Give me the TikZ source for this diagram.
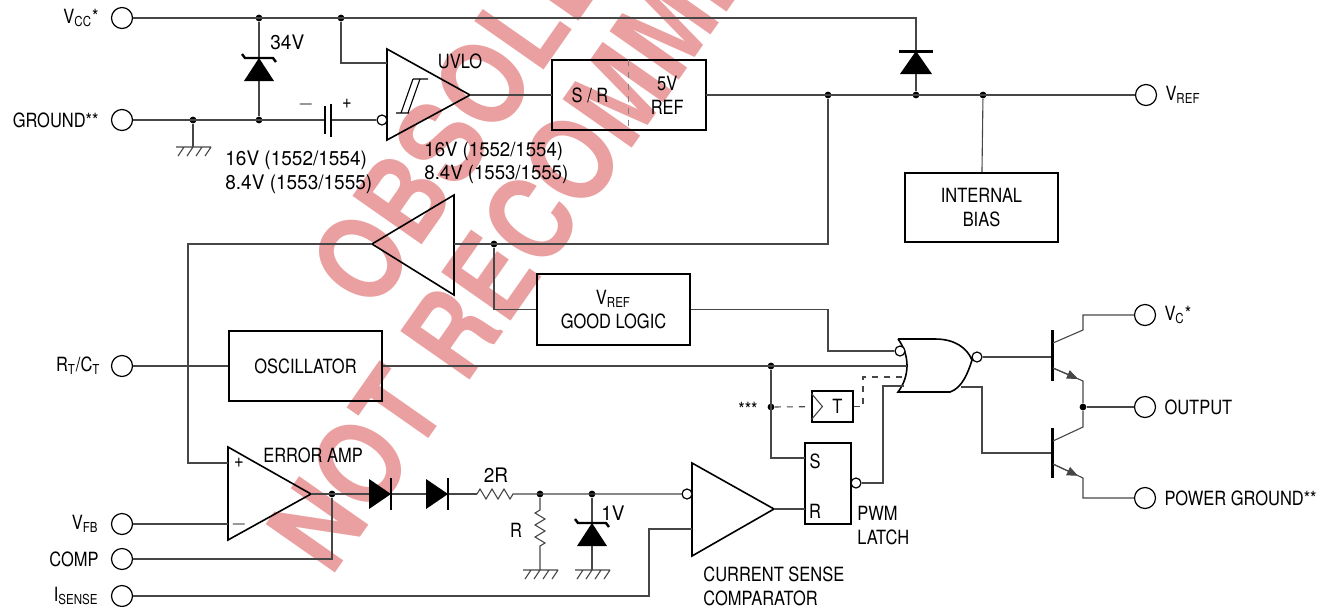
\documentclass[tikz,border=0pt]{standalone}
\usepackage{fontspec}
\setmainfont{TeX Gyre Heros}[FakeStretch=0.84]
\newfontfamily\wmfont{TeX Gyre Heros}[FakeStretch=0.85]
\newfontfamily\numfont{TeX Gyre Heros}[FakeStretch=0.95]
\usetikzlibrary{arrows.meta,positioning}
\definecolor{wmpink}{RGB}{234,160,160}
\definecolor{wiregray}{RGB}{70,70,70}
% ground hatch under a point
\newcommand{\gnd}[1]{\draw[wire] (#1) ++(-17,0) -- ++(35,0)
  (#1) ++(-9,0) -- ++(-6,9) (#1) ++(0,0) -- ++(-6,9)
  (#1) ++(9,0) -- ++(-6,9) (#1) ++(18,0) -- ++(-6,9);}
% zener, cathode up, apex at (#1,#2)
\newcommand{\zen}[2]{\fill (#1,#2) -- ++(15,23) -- ++(-30,0) -- cycle;
  \draw[line width=1.2pt] (#1,#2) ++(-17,-4) -- ++(3,4) -- ++(28,0) -- ++(3,4);}
% diode pointing right, left edge at (#1,#2)
\newcommand{\dioder}[2]{\fill (#1,#2) ++(0,-15) -- ++(22,15) -- ++(-22,15) -- cycle;
  \draw[line width=1.3pt] (#1,#2) ++(22,-16) -- ++(0,32);}
\begin{document}
\begin{tikzpicture}
[x=0.5pt, y=-0.5pt, font=\fontsize{9.8}{12}\selectfont,
 wire/.style={line width=0.55pt, wiregray},
 blk/.style={draw, line width=1pt, align=center, inner sep=0pt},
 pin/.style={draw, circle, line width=0.6pt, minimum size=10.5pt, inner sep=0pt},
 dot/.style={circle, fill=black, inner sep=0pt, minimum size=3.4pt},
 bub/.style={draw, circle, fill=white, line width=0.6pt, minimum size=5pt, inner sep=0pt},
 amp/.style={line width=0.8pt, line join=miter},
 txt/.style={inner sep=0pt},
 wm/.style={wmpink, rotate=55, anchor=base west, font=\wmfont\fontsize{58}{60}\selectfont\bfseries}]
\useasboundingbox (0,0) rectangle (1333,606);
% watermark
\begin{scope}
\clip (0,0) rectangle (1333,606);
\node[wm] (wm1) at (369,320) {OBSOLETE};
\node[wm] (wm2) at (327,584) {NOT RECOMMENDED};
\end{scope}
% pins
\node[pin] (vcc) at (122,18) {};
\node[pin] (gnd) at (122,120) {};
\node[pin] (rtct) at (122,366) {};
\node[pin] (vfb) at (122,524) {};
\node[pin] (comp) at (122,559) {};
\node[pin] (isns) at (122,596) {};
\node[pin] (vref) at (1146,95) {};
\node[pin] (vc) at (1145,315) {};
\node[pin] (out) at (1145,407) {};
\node[pin] (pgnd) at (1145,498) {};
\node[txt, left=6pt of vcc] (vccl) {V\textsubscript{CC}*};
\node[txt, left=6pt of gnd] (gndl) {GROUND**};
\node[txt, left=5pt of rtct] (rtctl) {R\textsubscript{T}/C\textsubscript{T}};
\node[txt, left=6pt of vfb] (vfbl) {V\textsubscript{FB}};
\node[txt, left=6pt of comp] (compl) {COMP};
\node[txt, left=6pt of isns] (isnsl) {I\textsubscript{SENSE}};
\node[txt, right=4pt of vref] (vrefl) {V\textsubscript{REF}};
\node[txt, right=4pt of vc] (vcl) {V\textsubscript{C}*};
\node[txt, right=4pt of out] (outl) {OUTPUT};
\node[txt, right=4pt of pgnd] (pgndl) {POWER GROUND**};
% blocks
\node[minimum width=38pt, minimum height=35pt, inner sep=0pt] (sr) at (590,95) {S / R};
\node[minimum width=38.5pt, minimum height=35pt, inner sep=0pt, align=center, right=0pt of sr] (ref) {5V\\REF};
\draw[line width=1pt] (sr.north west) rectangle (ref.south east);
\draw[dashed, line width=0.5pt, gray] (sr.north east) -- (sr.south east);
\node[blk, minimum width=76.5pt, minimum height=34.5pt] (bias) at (981.5,207.5) {INTERNAL\\BIAS};
\node[blk, minimum width=76.5pt, minimum height=35.5pt] (good) at (613.5,309.5) {V\textsubscript{REF}\\GOOD LOGIC};
\node[blk, minimum width=76.5pt, minimum height=35pt] (osc) at (305.5,366) {OSCILLATOR};
\node[draw, line width=0.6pt, minimum width=20.5pt, minimum height=15.5pt, inner sep=0pt] (tff) at (832.5,406.5) {\hspace{5pt}T};
\draw[wire] ([yshift=-1.5pt]tff.north west) -- ([xshift=5.5pt]tff.west) -- ([yshift=1.5pt]tff.south west);
\node[draw, line width=0.6pt, minimum width=23pt, minimum height=40.5pt] (latch) at (828,483.5) {};
\node[txt] (ls) at (815,461) {S};
\node[txt] (lr) at (815,511) {R};
% amplifiers
\draw[amp] (387,49) -- (387,140) -- (470,95) -- cycle;
\draw[wire, black] (396,113) -- (409,113) (401,113) -- (413,79) (408,113) -- (420,79) (413,79) -- (428,79);
\draw[amp] (454,195) -- (454,295) -- (372,244) -- cycle;
\draw[amp] (228,447) -- (228,540) -- (311,494) -- cycle;
\draw[amp] (692,463) -- (692,556) -- (774,509) -- cycle;
\coordinate (uvlo) at (470,95);
\coordinate (buf) at (372,244);
\coordinate (eamp) at (311,494);
\coordinate (csc) at (774,509);
\node[bub] (uvlon) at (382,120) {};
\node[bub] (csn) at (687,494) {};
\node[bub] (qb) at (856,483) {};
% gate
\draw[amp, fill=white] (898,339) -- (935,339) .. controls (955,339) and (967,348) .. (972,360)
  .. controls (968,373) and (962,388) .. (950,392) -- (898,392)
  .. controls (910,376) and (910,355) .. (898,339);
\node[bub] (norin) at (900,351) {};
\node[bub] (norout) at (977,357) {};
% dots
\node[dot] (d1) at (259,18) {};
\node[dot] (d2) at (341,18) {};
\node[dot] (d3) at (193,120) {};
\node[dot] (d4) at (259,120) {};
\node[dot] (d5) at (828,95) {};
\node[dot] (d6) at (916,95) {};
\node[dot] (d7) at (983,95) {};
\node[dot] (d8) at (494,244) {};
\node[dot] (d9) at (771,366) {};
\node[dot] (d10) at (771,407) {};
\node[dot] (d11) at (332,494) {};
\node[dot] (d12) at (540,494) {};
\node[dot] (d13) at (592,494) {};
\node[dot] (d14) at (1083,407) {};
% supply and uvlo
\draw[wire] (vcc) -- (916,18) -- (916,51);
\draw[wire] (d1) -- (d4);
\zen{259}{58}
\draw[wire] (d2) |- (387,63);
\draw[wire] (gnd) -- (325,120) (331,120) -- (uvlon);
\draw[line width=1.2pt] (325,106) -- (325,134);
\draw[line width=0.6pt] (331,104) -- (331,137);
\draw[wire] (d3) -- (193,147);
\gnd{193,147}
\draw[wire] (uvlo) -- (sr);
\draw[wire] (ref) -- (vref);
\fill (900,74) -- (932,74) -- (916,51) -- cycle;
\draw[line width=1.5pt] (899,51) -- (933,51);
\draw[wire] (916,74) -- (d6);
\draw[wire] (d7) -- (bias);
\draw[wire] (d5) |- (454,244);
\draw[wire] (buf) -| (188,463) -- (228,463);
\draw[wire] (d8) |- (good);
\draw[wire] (good) -| (828,351) -- (norin);
% oscillator and latch
\draw[wire] (rtct) -- (osc);
\draw[wire] (osc) -- (907,366);
\draw[wire] (d9) |- (805,458);
\draw[wire, dashed] (d10) -- (tff);
\draw[wire, dashed] (tff) -- (863,406.5) |- (907,377);
\draw[wire] (qb) -- (883,483) |- (904,386);
\draw[wire] (norout) -- (1052,357);
\draw[wire] (961,387) -| (982,453) -- (1052,453);
% error amp chain
\draw[wire] (vfb) -- (228,524);
\draw[wire] (eamp) -- (369,494) (391,494) -- (426,494) (447,494) -- (477,494);
\dioder{369}{494}
\dioder{426}{494}
\draw[wire] (477,494) -- (480,489) -- (486,499) -- (492,489) -- (498,499) -- (504,489) -- (510,499) -- (513,494) -- (csn);
\draw[wire] (d11) |- (comp);
\draw[wire] (d12) -- (540,510) -- (535,513) -- (545,519) -- (535,525) -- (545,531) -- (535,537) -- (545,543) -- (540,546) -- (540,570);
\gnd{540,570}
\draw[wire] (d13) -- (592,523) (592,546) -- (592,570);
\zen{592}{523}
\gnd{592,570}
\draw[wire] (csc) -- (805,509);
\draw[wire] (isns) -| (649,529) -- (692,529);
% output stage
\draw[line width=1.5pt] (1052,330) -- (1052,381) (1052,428) -- (1052,478);
\draw[wire] (1053,343) -- (1083,330) |- (vc);
\draw[wire] (1053,368) -- (1083,381) -- (d14) -- (1083,427) -- (1053,441);
\draw[wire] (d14) -- (out);
\draw[wire] (1053,464) -- (1083,478) |- (pgnd);
\draw[wire, -{Triangle[length=5.5pt,width=4.5pt]}] (1053,368) -- (1078,378.8);
\draw[wire, -{Triangle[length=5.5pt,width=4.5pt]}] (1053,464) -- (1078,475.8);
% labels
\node[txt, anchor=base west, font=\numfont] (z34) at (270,49) {34V};
\node[txt] (capm) at (306,104) {$-$};
\node[txt] (capp) at (347,104) {+};
\node[txt, anchor=base west, align=left, font=\numfont] (th1) at (225,189) {16V (1552/1554)\\8.4V (1553/1555)};
\node[txt, anchor=base west, align=left, font=\numfont\fontsize{9.8}{11.5}\selectfont] (th2) at (424,179) {16V (1552/1554)\\8.4V (1553/1555)};
\node[txt] (uvlol) at (460,61) {UVLO};
\node[txt] (eampl) at (313,455) {ERROR AMP};
\node[txt] (eplus) at (239,463) {+};
\node[txt] (eminus) at (239,524) {$-$};
\node[txt, font=\numfont] (r2l) at (496,475) {2R};
\node[txt] (r1l) at (516,530) {R};
\node[txt, font=\numfont] (z1l) at (613,513) {1V};
\node[txt] (stars) at (748,409) {***};
\node[txt, anchor=base west, align=left] (cscl) at (703,605) {CURRENT SENSE\\COMPARATOR};
\node[txt, anchor=base west, align=left] (pwml) at (857,544) {PWM\\LATCH};
\end{tikzpicture}
\end{document}
